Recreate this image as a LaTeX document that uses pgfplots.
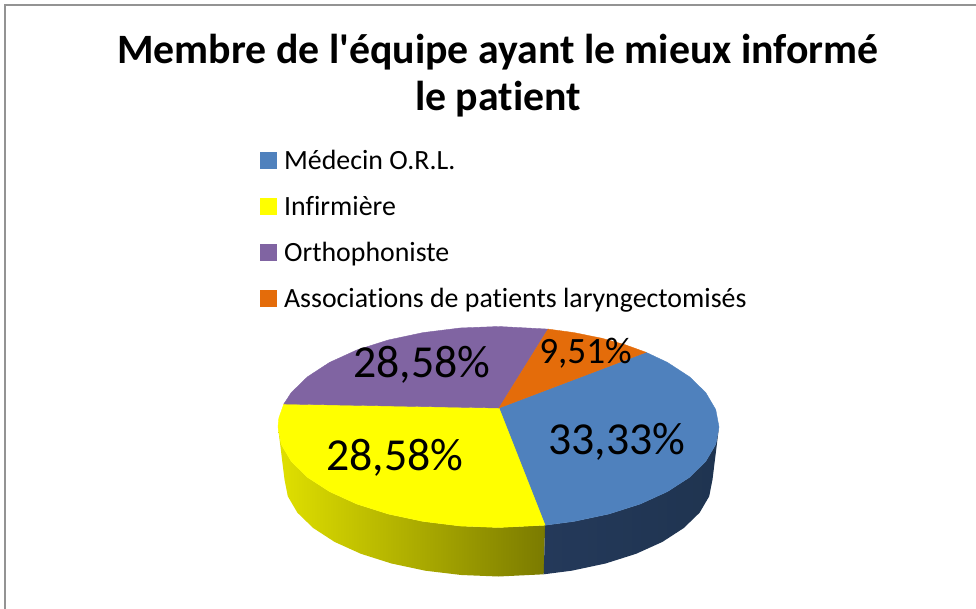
\documentclass[border=0pt]{standalone}
\usepackage{fontspec}
\setmainfont{Carlito}[Ligatures={TeXOff,NoCommon}]
\usepackage{pgfplots}
\pgfplotsset{compat=1.18}
\definecolor{cblue}{HTML}{4F81BD}
\definecolor{cyellow}{HTML}{FFFF00}
\definecolor{cpurple}{HTML}{8064A2}
\definecolor{corange}{HTML}{E46C0A}
\definecolor{sideblueL}{HTML}{24395A}
\definecolor{sideblueR}{HTML}{1F3450}
\begin{document}
\begin{tikzpicture}
\begin{axis}[
  scale only axis, width=976pt, height=609pt,
  xmin=0, xmax=976, ymin=0, ymax=609, y dir=reverse,
  hide axis, clip=true,
  title={Membre de l'équipe ayant le mieux informé\\le patient},
  title style={at={(axis cs:498,40)}, anchor=north, align=center,
    font=\fontsize{41.8}{47}\selectfont\bfseries, inner sep=0pt},
  legend style={at={(axis cs:260,148)}, anchor=north west, draw=none, fill=none,
    font=\fontsize{27.85}{27.85}\selectfont, row sep=21.2pt, inner sep=0pt},
  legend cell align=left,
  legend image code/.code={\path (0pt,0pt) (21.5pt,0pt);\fill[#1] (0pt,-8pt) rectangle (16pt,8pt);},
]
% page extent
\addplot[forget plot, draw=none] coordinates {(0,0) (976,609)};
% chart frame
\addplot[forget plot, draw=gray!85, line width=2pt] coordinates {(5,609) (5,5) (976,5)};
% yellow side
\addplot[forget plot, draw=none, left color=yellow!88!black, middle color=yellow!74!black, right color=yellow!48!black] coordinates {
 (278.0,427.0) (281.3,444.4) (291.3,461.4) (307.5,477.3) (329.6,491.6) (356.8,504.0) (388.3,514.0) (423.1,521.4) (460.2,526.0) (498.5,527.5) (545.1,525.2)
 (543.7,574.3) (498.5,576.5) (461.3,575.0) (425.3,570.7) (391.5,563.5) (360.9,553.8) (334.6,541.9) (313.2,528.0) (297.4,512.7) (287.8,496.3) (284.5,479.5)} --cycle;
% blue side
\addplot[forget plot, draw=none, left color=sideblueL, right color=sideblueR] coordinates {
 (545.1,525.2) (573.9,521.4) (608.8,514.0) (640.2,504.0) (667.4,491.6) (689.5,477.3) (705.7,461.4) (715.7,444.4) (719.0,427.0)
 (712.5,479.5) (709.2,496.3) (699.6,512.7) (683.8,528.0) (662.4,541.9) (636.1,553.8) (605.5,563.5) (571.7,570.7) (543.7,574.3)} --cycle;
% blue top: 33,33 %
\addplot[fill=cblue, draw=cblue] coordinates {
 (499,408) (545.1,525.2) (573.9,521.4) (608.8,514.0) (640.2,504.0) (667.4,491.6) (689.5,477.3) (705.7,461.4) (715.7,444.4) (719.0,427.0)
 (715.7,409.6) (705.7,392.6) (689.5,376.8) (667.4,362.4) (646.0,352.3)} --cycle;
\addlegendentry{Médecin O.R.L.}
% yellow top: 28,58 %
\addplot[fill=cyellow, draw=cyellow] coordinates {
 (499,408) (283.8,404.0) (278.8,418.2) (278.0,427.0) (281.3,444.4) (291.3,461.4) (307.5,477.3) (329.6,491.6) (356.8,504.0) (388.3,514.0) (423.1,521.4) (460.2,526.0) (498.5,527.5) (545.1,525.2)} --cycle;
\addlegendentry{Infirmière}
% purple top: 28,58 %
\addplot[fill=cpurple, draw=cpurple] coordinates {
 (499,408) (548.1,329.1) (498.5,326.5) (460.2,328.0) (423.1,332.6) (388.3,340.0) (356.8,350.0) (329.6,362.4) (307.5,376.8) (291.3,392.6) (283.8,404.0)} --cycle;
\addlegendentry{Orthophoniste}
% orange top: 9,51 %
\addplot[fill=corange, draw=corange] coordinates {
 (499,408) (646.0,352.3) (625.0,344.7) (602.0,338.3) (573.9,332.6) (548.1,329.1)} --cycle;
\addlegendentry{Associations de patients laryngectomisés}
\node[font=\fontsize{45.8}{45.8}\selectfont] at (axis cs:617,442) {33,33\%};
\node[font=\fontsize{45.8}{45.8}\selectfont] at (axis cs:395,458) {28,58\%};
\node[font=\fontsize{45.8}{45.8}\selectfont] at (axis cs:422,365) {28,58\%};
\node[font=\fontsize{37.2}{37.2}\selectfont] at (axis cs:585.5,353) {9,51\%};
\end{axis}
\end{tikzpicture}
\end{document}
